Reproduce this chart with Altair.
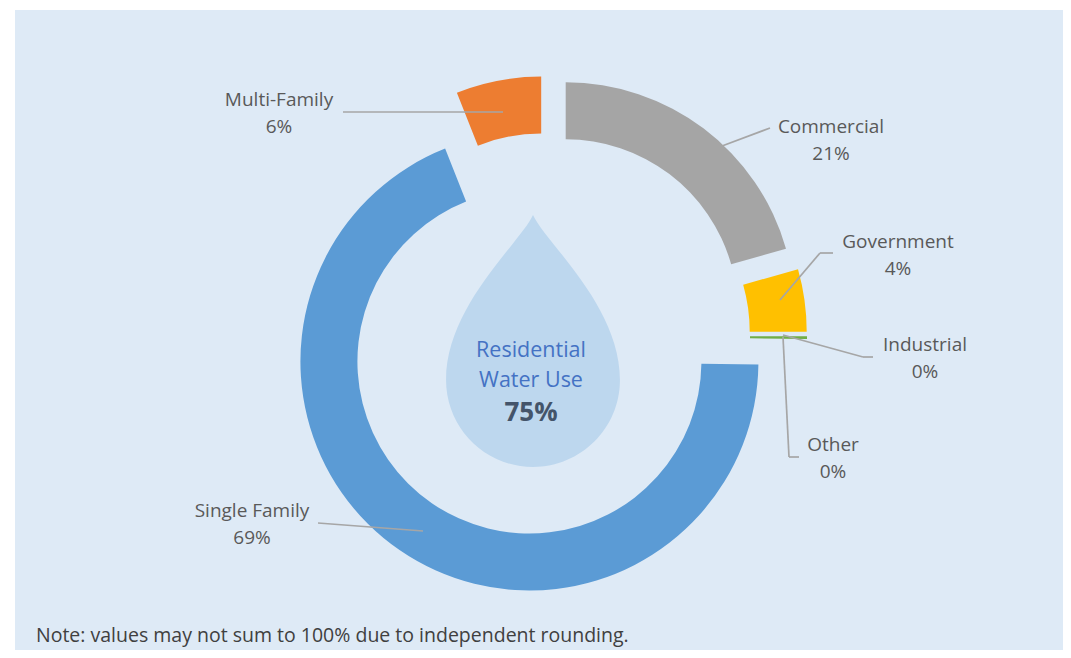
import math
import altair as alt
import pandas as pd

# ---------------- data ----------------
categories = ["Commercial", "Government", "Industrial", "Other", "Single Family", "Multi-Family"]
shares = [20.6, 4.4, 0.2, 0.0, 68.8, 6.0]
colors = ["#A5A5A5", "#FFC000", "#70AD47", "#4472C4", "#5B9BD5", "#ED7D31"]
residential = ["Single Family", "Multi-Family"]
center_lines = ["Residential", "Water Use"]
note_text = "Note: values may not sum to 100% due to independent rounding."

# ---------------- layout (page pixels) ----------------
W, H = 1055, 642
M = 8
CX, CY = 547, 336
EXPLODE = 31
R_OUT, R_IN = 229, 172
LINE_GAP = 27

label_pos = {
    "Commercial": (831, 127),
    "Government": (898, 242),
    "Industrial": (925, 345),
    "Other": (833, 445),
    "Single Family": (252, 511),
    "Multi-Family": (279, 100),
}
leaders = {
    "Commercial": [(722, 146), (770, 128)],
    "Government": [(780, 300), (820, 253), (833, 253)],
    "Industrial": [(783, 335), (863, 357), (873, 357)],
    "Other": [(783, 337), (789, 457), (799, 457)],
    "Single Family": [(423, 531), (318, 523)],
    "Multi-Family": [(503, 112), (343, 112)],
}

total = sum(shares)
rows = []
acc = 0.0
for c, v, col in zip(categories, shares, colors):
    start, end = acc, acc + v
    acc = end
    a = 2 * math.pi * ((start + end) / 2) / total
    lx, ly = label_pos[c]
    rows.append({
        "category": c, "share": v, "start": start, "end": end,
        "cx": CX + EXPLODE * math.sin(a), "cy": CY - EXPLODE * math.cos(a),
        "lx": lx, "ly": ly, "ly2": ly + LINE_GAP,
        "pct": f"{round(v)}%",
    })
df = pd.DataFrame(rows)

seg_rows = []
for c, pts in leaders.items():
    for (x1, y1), (x2, y2) in zip(pts[:-1], pts[1:]):
        seg_rows.append({"category": c, "x": x1, "y": y1, "x2": x2, "y2": y2})
segs = pd.DataFrame(seg_rows)

res_pct = round(sum(v for c, v in zip(categories, shares) if c in residential))

xs = alt.Scale(domain=[M, M + W], range=[0, W], nice=False, zero=False)
ys = alt.Scale(domain=[M, M + H], range=[0, H], nice=False, zero=False)
color_scale = alt.Scale(domain=categories, range=colors)

FONT = "Open Sans"
LABEL_COLOR = "#595959"

bg = alt.Chart(pd.DataFrame({"k": [0]})).mark_rect(color="#DEEAF6").encode(
    x=alt.value(15 - M), x2=alt.value(W), y=alt.value(10 - M), y2=alt.value(H)
)

drop_path = ("M0,-1 C0.1,-0.78 0.69,-0.28 0.69,0.31 "
             "A0.69,0.69 0 1 1 -0.69,0.31 C-0.69,-0.28 -0.1,-0.78 0,-1 Z")
drop = alt.Chart(pd.DataFrame({"k": [0]})).mark_point(
    shape=drop_path, size=252 * 252, filled=True, color="#BDD7EE", opacity=1, strokeWidth=0
).encode(x=alt.value(533 - M), y=alt.value(341 - M))

arcs = alt.Chart(df).mark_arc(outerRadius=R_OUT, innerRadius=R_IN, strokeWidth=0).encode(
    theta=alt.Theta("start:Q", stack=None,
                    scale=alt.Scale(domain=[0, total], range=[0, 2 * math.pi])),
    theta2="end:Q",
    x=alt.X("cx:Q", scale=xs, axis=None),
    y=alt.Y("cy:Q", scale=ys, axis=None),
    color=alt.Color("category:N", scale=color_scale, legend=None),
)

lines = alt.Chart(segs).mark_rule(color="#A6A6A6", strokeWidth=1.7).encode(
    x=alt.X("x:Q", scale=xs, axis=None), y=alt.Y("y:Q", scale=ys, axis=None),
    x2="x2:Q", y2="y2:Q",
)

names = alt.Chart(df).mark_text(font=FONT, fontSize=19, color=LABEL_COLOR,
                                align="center", baseline="middle").encode(
    x=alt.X("lx:Q", scale=xs, axis=None), y=alt.Y("ly:Q", scale=ys, axis=None),
    text="category:N",
)
pcts = alt.Chart(df).mark_text(font=FONT, fontSize=19, color=LABEL_COLOR,
                               align="center", baseline="middle").encode(
    x=alt.X("lx:Q", scale=xs, axis=None), y=alt.Y("ly2:Q", scale=ys, axis=None),
    text="pct:N",
)

center_df = pd.DataFrame({
    "t": center_lines + [f"{res_pct}%"],
    "row": [0, 1, 2],
})
center_txt = alt.Chart(center_df).transform_filter("datum.row < 2").mark_text(
    font=FONT, fontSize=21.5, color="#4472C4", align="center", baseline="middle"
).encode(
    x=alt.value(531 - M),
    y=alt.Y("yy:Q", scale=ys, axis=None),
    text="t:N",
).transform_calculate(yy="351 + datum.row * 30")
center_pct = alt.Chart(center_df).transform_filter("datum.row == 2").mark_text(
    font=FONT, fontSize=26, fontWeight="bold", color="#44546A", align="center", baseline="middle"
).encode(x=alt.value(531 - M), y=alt.value(413 - M), text="t:N")

note = alt.Chart(pd.DataFrame({"t": [note_text]})).mark_text(
    font=FONT, fontSize=19.5, color="#404040", align="left", baseline="middle"
).encode(x=alt.value(36 - M), y=alt.value(636 - M), text="t:N")

chart = alt.layer(bg, drop, arcs, lines, names, pcts, center_txt, center_pct, note).properties(
    width=W, height=H, padding=0, background="white",
    autosize=alt.AutoSizeParams(type="none"),
).configure_view(stroke=None)

chart.save("out.html", embed_options={"renderer": "svg", "actions": False})
